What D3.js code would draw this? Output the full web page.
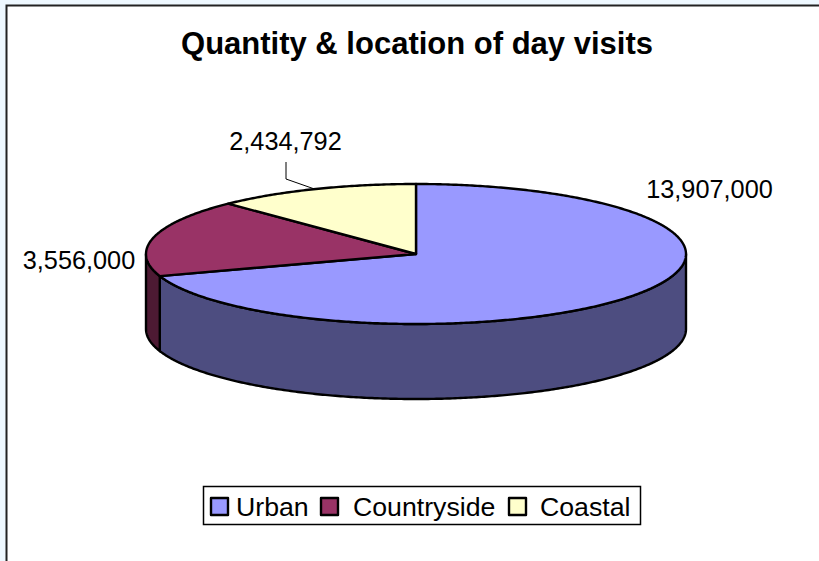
<!DOCTYPE html>
<html><head><meta charset="utf-8">
<script src="https://cdn.jsdelivr.net/npm/d3@7/dist/d3.min.js"></script>
<style>html,body{margin:0;padding:0;background:#eef8ff;overflow:hidden}svg{display:block}text{font-family:"Liberation Sans",Arial,sans-serif;fill:#000}</style>
</head><body><svg id="c" width="819" height="561"></svg>
<script>
const categories = ["Urban","Countryside","Coastal"];
const values = [13907000,3556000,2434792];
const valueLabels = ["13,907,000","3,556,000","2,434,792"];
const topColors = ["#9999ff","#993366","#ffffcc"];
const sideColors = ["#4d4d80","#4d1a33","#808066"];
const titleText = "Quantity & location of day visits";

const svg = d3.select("#c");
const W = 819, H = 561;
// frame
svg.append("rect").attr("x",6.5).attr("y",5.5).attr("width",W+20).attr("height",H+20)
  .attr("fill","#fff").attr("stroke","#222").attr("stroke-width",2);

svg.append("text").attr("x",417).attr("y",54).attr("text-anchor","middle")
  .attr("font-size",31).attr("font-weight","bold").text(titleText);

// projection of the unit disc on the tilted ellipse
const px = d3.scaleLinear().domain([-1,1]).range([146,686]);
const py = d3.scaleLinear().domain([-1,1]).range([324,184]);
const depth = 75;
const arcs = d3.pie().sort(null).startAngle(0).endAngle(2*Math.PI)(values);
const pt = (t,dy=0)=>[px(Math.sin(t)),py(Math.cos(t))+dy];
const line = d3.line();
const sample = (a,b,dy=0)=>{
  const n = Math.max(2,Math.ceil(Math.abs(b-a)/0.01));
  return d3.range(n+1).map(i=>pt(a+(b-a)*i/n,dy));
};
const stroke = {stroke:"#000","stroke-width":2.4,"stroke-linejoin":"round"};
function style(s){Object.entries(stroke).forEach(([k,v])=>s.attr(k,v));return s;}

// side walls: only the front half of the disc (t in 90..270 deg) is visible
const lo = Math.PI/2, hi = 3*Math.PI/2;
arcs.forEach((d,i)=>{
  const a = Math.max(d.startAngle,lo), b = Math.min(d.endAngle,hi);
  if(b<=a) return;
  const poly = sample(a,b).concat(sample(b,a,depth));
  style(svg.append("path").attr("d",line(poly)+"Z").attr("fill",sideColors[i]));
});
// top faces
arcs.forEach((d,i)=>{
  const poly = [[px(0),py(0)]].concat(sample(d.startAngle,d.endAngle));
  style(svg.append("path").attr("d",line(poly)+"Z").attr("fill",topColors[i]));
});

// data labels
const labelPos = [[709.5,198],[79,269],[285.5,150]];
valueLabels.forEach((t,i)=>{
  svg.append("text").attr("x",labelPos[i][0]).attr("y",labelPos[i][1]).attr("text-anchor","middle")
    .attr("font-size",25.3).text(t);
});
// leader for the Coastal label
const mid = (arcs[2].startAngle+arcs[2].endAngle)/2;
svg.append("path").attr("d",line([[286,162],[286,179],pt(mid)])).attr("fill","none").attr("stroke","#000").attr("stroke-width",1);

// legend
svg.append("rect").attr("x",203.5).attr("y",486.5).attr("width",437).attr("height",38)
  .attr("fill","#fff").attr("stroke","#000").attr("stroke-width",1.5);
const swatchX = [211,321,509], textX = [236,353,540];
categories.forEach((c,i)=>{
  style(svg.append("rect").attr("x",swatchX[i]).attr("y",498).attr("width",17).attr("height",17).attr("fill",topColors[i]));
  svg.append("text").attr("x",textX[i]).attr("y",516).attr("font-size",26.7).text(c);
});
</script></body></html>
